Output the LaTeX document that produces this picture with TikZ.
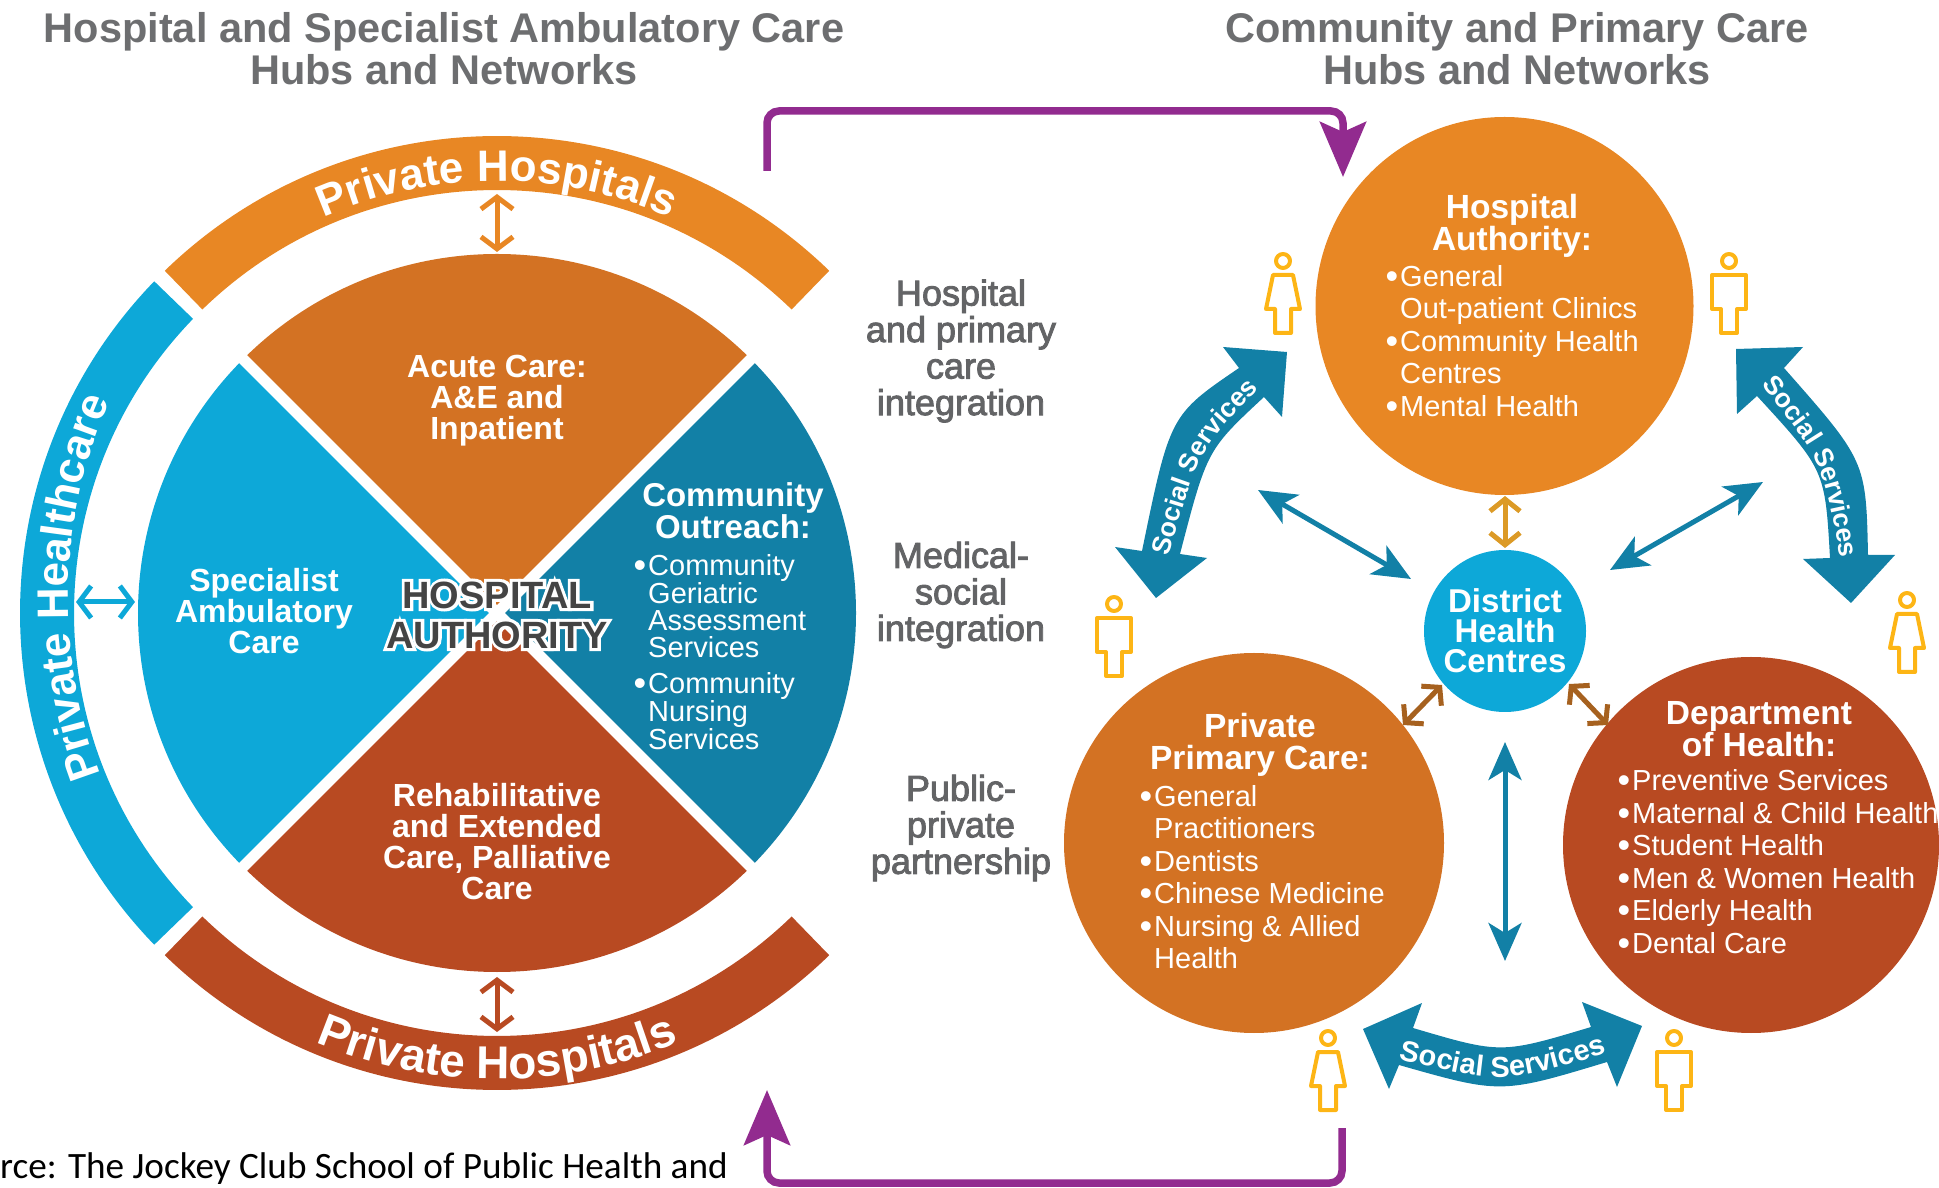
\documentclass[tikz,border=0pt]{standalone}
\usepackage{fontspec}
\setmainfont{Liberation Sans}
\newfontfamily\midfont[FakeBold=2.5]{Liberation Sans}
\newfontfamily\halofont[FakeBold=16]{Liberation Sans Bold}
\newfontfamily\darkfont{Liberation Sans Bold}
\newfontfamily\srcfont{Carlito}
\usetikzlibrary{arrows.meta,decorations.text}
\definecolor{cOrangeA}{HTML}{E88724}
\definecolor{cOrangeB}{HTML}{D37223}
\definecolor{cBlue}{HTML}{0DA8D8}
\definecolor{cTeal}{HTML}{1280A6}
\definecolor{cRed}{HTML}{B84A22}
\definecolor{cPurple}{HTML}{922B8F}
\definecolor{cYellow}{HTML}{FDB515}
\definecolor{cGold}{HTML}{DC9A26}
\definecolor{cBrown}{HTML}{A6611F}
\definecolor{cHead}{HTML}{6D6E70}
\definecolor{cMid}{HTML}{636466}
\definecolor{cDark}{HTML}{444444}
\def\ringtext{\fontsize{44}{44}\selectfont\bfseries}
\def\ringtextB{\fontsize{46}{46}\selectfont\bfseries}
\def\soctext{\fontsize{26.5}{26.5}\selectfont\bfseries}
\def\soctextB{\fontsize{29}{29}\selectfont\bfseries}
\tikzset{
  x=1pt,y=1pt,
  boldlabel/.style={text=white,inner sep=0pt,align=center,font=\fontsize{32}{31}\selectfont\bfseries},
  titlelabel/.style={text=white,inner sep=0pt,align=center,font=\fontsize{33.5}{31.5}\selectfont\bfseries},
  listlabel/.style={text=white,inner sep=0pt,align=left,anchor=west,font=\fontsize{29}{32.5}\selectfont},
  smalllist/.style={text=white,inner sep=0pt,align=left,anchor=west,font=\fontsize{29}{27}\selectfont},
  midlabel/.style={text=cMid,inner sep=0pt,align=center,font=\fontsize{36}{36.5}\midfont},
  headlabel/.style={text=cHead,inner sep=0pt,align=center,font=\fontsize{41.5}{42.5}\selectfont\bfseries},
  fatarrow/.style={line width=5pt,cTeal,{Stealth[length=38pt,width=33pt,inset=10pt]}-{Stealth[length=38pt,width=33pt,inset=10pt]}},
  barbarrow/.style={line width=5pt,{Straight Barb[length=12pt,width=#1]}-{Straight Barb[length=12pt,width=#1]}},
  purpleline/.style={line width=7.5pt,cPurple,rounded corners=12pt,-{Stealth[length=55pt,width=46pt,inset=10pt]}},
  personline/.style={draw=cYellow,line width=4pt,line join=round,fill=white},
  femalefig/.pic={
    \draw[personline] (0,0) circle[radius=7pt];
    \draw[personline] (-10,-14)--(10,-14)--(17,-48)--(8,-48)--(8,-72)--(-8,-72)--(-8,-48)--(-17,-48)--cycle;
  },
  malefig/.pic={
    \draw[personline] (0,0) circle[radius=7pt];
    \draw[personline] (-17,-14)--(17,-14)--(17,-48)--(8,-48)--(8,-72)--(-8,-72)--(-8,-48)--(-17,-48)--cycle;
  }
}
\newcommand{\bul}{\llap{\raisebox{-2pt}{\fontsize{36}{30}\selectfont\textbullet}\kern2pt}}
\begin{document}
\begin{tikzpicture}
\useasboundingbox (0,0) rectangle (1939,1187);
% --- sectors and ring
\begin{scope}[shift={(497,574)}]
  \fill[cOrangeB] (0,0)--(45:359pt) arc[start angle=45,end angle=135,radius=359pt]--cycle;
  \fill[cBlue] (0,0)--(135:359pt) arc[start angle=135,end angle=225,radius=359pt]--cycle;
  \fill[cRed] (0,0)--(225:359pt) arc[start angle=225,end angle=315,radius=359pt]--cycle;
  \fill[cTeal] (0,0)--(315:359pt) arc[start angle=315,end angle=405,radius=359pt]--cycle;
  \draw[white,line width=11pt] (45:372pt)--(225:372pt);
  \draw[white,line width=11pt] (135:372pt)--(315:372pt);
  \fill[cOrangeA] (134.15:477pt) arc[start angle=134.15,end angle=45.85,radius=477pt]--(45.85:423pt) arc[start angle=45.85,end angle=134.15,radius=423pt]--cycle;
  \fill[cBlue] (135.94:477pt) arc[start angle=135.94,end angle=224.06,radius=477pt]--(224.06:423pt) arc[start angle=224.06,end angle=135.94,radius=423pt]--cycle;
  \fill[cRed] (225.85:477pt) arc[start angle=225.85,end angle=314.15,radius=477pt]--(314.15:423pt) arc[start angle=314.15,end angle=225.85,radius=423pt]--cycle;
  \path[decorate,decoration={text along path,text color=white,text align=center,text={|\ringtext|Private Hospitals}}]
    (128:432pt) arc[start angle=128,end angle=52,radius=432pt];
  \path[decorate,decoration={text along path,text color=white,text align=center,text={|\ringtextB|Private Hospitals}}]
    (232:466pt) arc[start angle=232,end angle=308,radius=466pt];
\end{scope}
\begin{scope}[shift={(557,588.3)}]
  \path[decorate,decoration={text along path,text color=white,text align=center,text={|\ringtext|Private Healthcare}}]
    (206.6:489pt) arc[start angle=206.6,end angle=150.6,radius=489pt];
\end{scope}
% --- everything below in reference pixel coordinates (y downward)
\begin{scope}[shift={(0,1187)},yscale=-1]
  % headings
  \node[headlabel] (headL) at (444,48.5) {Hospital and Specialist Ambulatory Care\\Hubs and Networks};
  \node[headlabel] (headR) at (1517,48.5) {Community and Primary Care\\Hubs and Networks};
  % sector labels
  \node[boldlabel] (acute) at (497,401) {Acute Care:\\A\&E and\\Inpatient};
  \node[boldlabel] (spec) at (264,611) {Specialist\\Ambulatory\\Care};
  \node[boldlabel] (rehab) at (497,842) {Rehabilitative\\and Extended\\Care, Palliative\\Care};
  \node[boldlabel,font=\fontsize{33}{32}\selectfont\bfseries] (comm) at (733,511) {Community\\Outreach:};
  \node[smalllist] (commA) at (648,606) {\bul Community\\Geriatric\\Assessment\\Services};
  \node[smalllist] (commB) at (648,711) {\bul Community\\Nursing\\Services};
  % hospital authority
  \node[inner sep=0pt,align=center,text=white,font=\fontsize{38}{40}\halofont] (haHalo) at (497,615) {HOSPITAL\\AUTHORITY};
  \node[inner sep=0pt,align=center,text=cDark,font=\fontsize{38}{40}\darkfont] (haText) at (497,615) {HOSPITAL\\AUTHORITY};
  % ring arrows
  \coordinate (ra1) at (497,194); \coordinate (ra2) at (497,252);
  \coordinate (rb1) at (497,977); \coordinate (rb2) at (497,1032);
  \coordinate (rc1) at (76,602); \coordinate (rc2) at (135,602);
  \draw[barbarrow=32pt,cOrangeA] (ra1)--(ra2);
  \draw[barbarrow=32pt,cRed] (rb1)--(rb2);
  \draw[barbarrow=32pt,cBlue] (rc1)--(rc2);
  % middle labels
  \node[midlabel] (m1) at (961,351) {Hospital\\and primary\\care\\integration};
  \node[midlabel] (m2) at (961,595) {Medical-\\social\\integration};
  \node[midlabel] (m3) at (961,828) {Public-\\private\\partnership};
  % circles
  \node[circle,fill=cOrangeA,minimum size=378pt,inner sep=0pt] (cHA) at (1504.5,306) {};
  \node[circle,fill=cBlue,minimum size=162pt,inner sep=0pt] (cDH) at (1505,631) {};
  \node[circle,fill=cOrangeB,minimum size=380pt,inner sep=0pt] (cPP) at (1254,843) {};
  \node[circle,fill=cRed,minimum size=376pt,inner sep=0pt] (cDep) at (1751,845) {};
  % circle texts
  \node[titlelabel] (tHA) at (1512,226) {Hospital\\Authority:};
  \node[listlabel] (lHA) at (1400,341.5) {\bul General\\Out-patient Clinics\\\bul Community Health\\Centres\\\bul Mental Health};
  \node[titlelabel,font=\fontsize{33}{30}\selectfont\bfseries] (tDH) at (1505,630.5) {District\\Health\\Centres};
  \node[titlelabel] (tPP) at (1260,745) {Private\\Primary Care:};
  \node[listlabel] (lPP) at (1154,877) {\bul General\\Practitioners\\\bul Dentists\\\bul Chinese Medicine\\\bul Nursing \& Allied\\Health};
  \node[titlelabel] (tDep) at (1759,729) {Department\\of Health:};
  \node[listlabel] (lDep) at (1632,862.5) {\bul Preventive Services\\\bul Maternal \& Child Health\\\bul Student Health\\\bul Men \& Women Health\\\bul Elderly Health\\\bul Dental Care};
  % straight arrows
  \coordinate (fa1) at (1258,490); \coordinate (fa2) at (1411,579);
  \coordinate (fb1) at (1763,482); \coordinate (fb2) at (1610,570);
  \coordinate (fc1) at (1505,742); \coordinate (fc2) at (1505,961);
  \draw[fatarrow] (fa1)--(fa2);
  \draw[fatarrow] (fb1)--(fb2);
  \draw[fatarrow] (fc1)--(fc2);
  \coordinate (g1) at (1505,496); \coordinate (g2) at (1505,548);
  \draw[barbarrow=30pt,cGold] (g1)--(g2);
  \coordinate (b1) at (1442,685); \coordinate (b2) at (1403,725);
  \coordinate (b3) at (1569,684); \coordinate (b4) at (1608,725);
  \draw[barbarrow=28pt,cBrown] (b1)--(b2);
  \draw[barbarrow=28pt,cBrown] (b3)--(b4);
  % curved fat arrows
  \fill[cTeal] (1287,352)--(1282,417)--(1264,397) .. controls (1207,450) .. (1180,554)
     --(1207,558)--(1156,598)--(1115,547)--(1142,551) .. controls (1170,415) .. (1239,368)--(1223,347)--cycle;
  \fill[cTeal] (1736,349)--(1803,347)--(1784,368) .. controls (1866,461) .. (1868,555)
     --(1895,555)--(1851,603)--(1803,559)--(1830,558) .. controls (1825,470) .. (1757,396)--(1737,414)--cycle;
  \fill[cTeal] (1363,1029)--(1422,1003)--(1413,1028) .. controls (1501,1054) .. (1591,1027)
     --(1582,1002)--(1642,1026)--(1617,1087)--(1607,1062) .. controls (1501,1094) .. (1399,1065)--(1389,1089)--cycle;
  % persons
  \pic at (1283,261) {femalefig};
  \pic at (1729,261) {malefig};
  \pic at (1114,604) {malefig};
  \pic at (1907,600) {femalefig};
  \pic at (1328,1038) {femalefig};
  \pic at (1674,1038) {malefig};
  % purple connectors
  \coordinate (pa1) at (767,171); \coordinate (pa2) at (767,111); \coordinate (pa3) at (1343,111); \coordinate (pa4) at (1343,177);
  \draw[purpleline] (pa1)--(pa2)--(pa3)--(pa4);
  \coordinate (pb1) at (1342,1128); \coordinate (pb2) at (1342,1183); \coordinate (pb3) at (767,1183); \coordinate (pb4) at (767,1090);
  \draw[purpleline] (pb1)--(pb2)--(pb3)--(pb4);
  % source
  \node[inner sep=0pt,anchor=west,text=black,font=\fontsize{37.2}{37}\srcfont] (src) at (0,1169) {rce: The Jockey Club School of Public Health and};
\end{scope}
% --- texts along the curved arrows (y upward here)
\path[decorate,decoration={text along path,text color=white,text align=center,text={|\soctext|Social Services}}]
  (1168,630) .. controls (1200,739) .. (1260,799);
\path[decorate,decoration={text along path,text color=white,text align=center,text={|\soctext|Social Services}}]
  (1760,804) .. controls (1822,727) .. (1841,627);
\path[decorate,decoration={text along path,text color=white,text align=center,text={|\soctextB|Social Services}}]
  (1398,128) .. controls (1503,103) .. (1608,134);
\end{tikzpicture}
\end{document}
